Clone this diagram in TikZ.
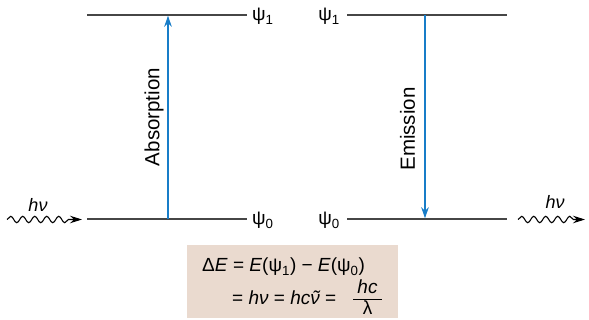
\documentclass[tikz,border=0pt]{standalone}
\usepackage{fontspec}
\setmainfont{Liberation Sans}
\usetikzlibrary{decorations.pathmorphing,arrows.meta}
\definecolor{lvl}{RGB}{70,70,70}
\definecolor{tblue}{RGB}{24,125,200}
\definecolor{boxc}{RGB}{234,218,207}
\newcommand\tnu{{\itshape\setbox0\hbox{ν}\rlap{\hbox to \wd0{\hss\kern0.1em\raisebox{0.02em}{\char"02DC}\hss}}ν}}
\tikzset{
  level/.style={draw=lvl,line width=1.4pt},
  trans/.style={draw=tblue,line width=1.4pt,-{Stealth[length=11pt,width=7.5pt]}},
  photon/.style={draw=black,line width=1.1pt,decorate,decoration={snake,amplitude=3.2pt,segment length=12pt,post length=9pt},-{Stealth[length=12pt,width=7.5pt]}},
  lab/.style={font=\fontsize{19}{21}\selectfont,inner sep=0pt},
  vlab/.style={font=\fontsize{20.5}{23}\selectfont,inner sep=0pt,rotate=90}
}
\begin{document}
\begin{tikzpicture}[x=1pt,y=-1pt]
\useasboundingbox (0,0) rectangle (589,320);
% levels
\coordinate (L1a) at (87,15); \coordinate (L1b) at (247,15);
\coordinate (L0a) at (87,219); \coordinate (L0b) at (247,219);
\coordinate (R1a) at (347,15); \coordinate (R1b) at (507,15);
\coordinate (R0a) at (347,219); \coordinate (R0b) at (507,219);
\draw[level] (L1a) -- (L1b);
\draw[level] (L0a) -- (L0b);
\draw[level] (R1a) -- (R1b);
\draw[level] (R0a) -- (R0b);
\node[lab,anchor=base west] (p1l) at (252,21) {ψ\textsubscript{1}};
\node[lab,anchor=base west] (p0l) at (252,225) {ψ\textsubscript{0}};
\node[lab,anchor=base east] (p1r) at (340,21) {ψ\textsubscript{1}};
\node[lab,anchor=base east] (p0r) at (340,225) {ψ\textsubscript{0}};
% transitions
\coordinate (ab0) at (168,219); \coordinate (ab1) at (168,15.7);
\coordinate (em1) at (425,15); \coordinate (em0) at (425,218.3);
\draw[trans] (ab0) -- (ab1);
\draw[trans] (em1) -- (em0);
\node[vlab] (abs) at (154,117) {Absorption};
\node[vlab] (ems) at (407.5,129) {Emission};
% photons
\coordinate (w1a) at (7,219.5); \coordinate (w1b) at (82,219.5);
\coordinate (w2a) at (518,219.5); \coordinate (w2b) at (585,219.5);
\draw[photon] (w1a) -- (w1b);
\draw[photon] (w2a) -- (w2b);
\node[lab,font=\fontsize{18}{20}\selectfont] (hv1) at (38,205) {\textit{hν}};
\node[lab,font=\fontsize{18}{20}\selectfont] (hv2) at (555,201.5) {\textit{hν}};
% equation box
\node[fill=boxc,minimum width=211pt,minimum height=73pt,inner sep=0pt] (box) at (292.5,281.5) {};
\node[lab,anchor=base west] (eq1) at (202,272) {Δ\textit{E} = \textit{E}(ψ\textsubscript{1}) − \textit{E}(ψ\textsubscript{0})};
\node[lab,anchor=base west] (eq2) at (232,305) {= \textit{hν} = \textit{hc}\tnu\ =};
\node[lab,anchor=base] (num) at (367.5,294) {\textit{hc}};
\node[lab,anchor=base] (den) at (367.5,315) {λ};
\coordinate (barL) at (353,299.5); \coordinate (barR) at (382,299.5);
\draw[line width=1pt] (barL) -- (barR);
\end{tikzpicture}
\end{document}
